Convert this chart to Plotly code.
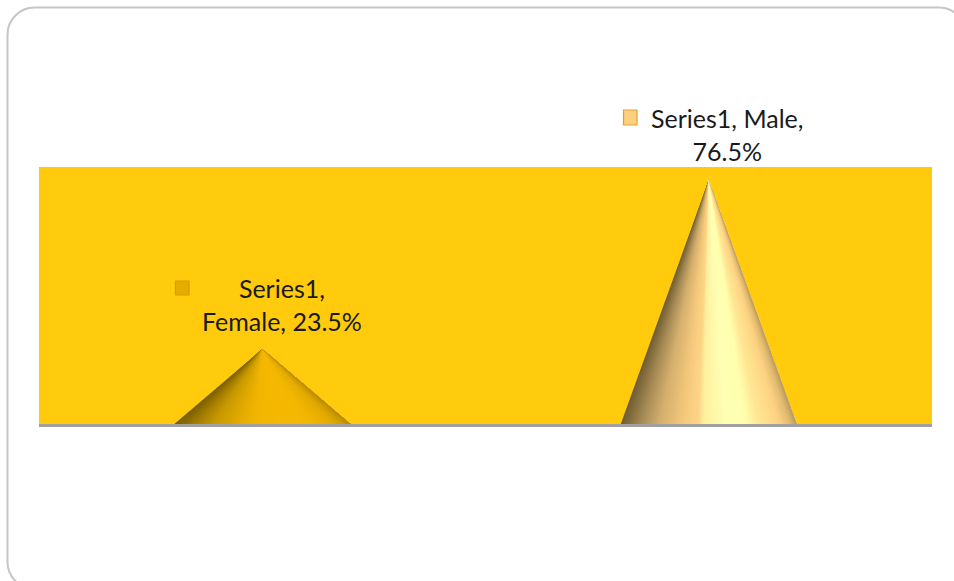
import plotly.graph_objects as go

# ---- data ----
categories = ["Female", "Male"]
values = [23.5, 76.5]
series_name = "Series1"
label_lines = [["Series1,", "Female, 23.5%"], ["Series1, Male,", "76.5%"]]

# shading stops across each cone: (position across the base, colour)
shade_positions = [0.0, 0.05, 0.12, 0.22, 0.36, 0.44, 0.47, 0.6, 0.71, 0.78, 0.9, 0.96, 1.0]
shade_female = ["#7a5e00", "#8a6a00", "#a57d00", "#c69800", "#e2aa00", "#eeb300", "#f2b600",
                "#f5b800", "#f5b800", "#f2b600", "#e4ab00", "#cf9b00", "#b88a00"]
shade_male = ["#6f5c38", "#86703f", "#a88c56", "#d3ae6d", "#f5c97c", "#fdd586", "#fff09e",
              "#ffffb4", "#ffffae", "#ffe794", "#fdd282", "#e2bb70", "#bb9a5c"]

W, H = 954, 581
L, R, T, B = 39, 932, 167, 424
Y_MAX = 80.6
CONE_HALF = 0.197
N_SLICES = 90


def hex2rgb(h):
    return tuple(int(h[i:i + 2], 16) for i in (1, 3, 5))


def shade(stops, t):
    for i in range(len(shade_positions) - 1):
        a, b = shade_positions[i], shade_positions[i + 1]
        if t <= b:
            f = (t - a) / (b - a)
            c0, c1 = hex2rgb(stops[i]), hex2rgb(stops[i + 1])
            return "rgb(%d,%d,%d)" % tuple(round(p + (q - p) * f) for p, q in zip(c0, c1))
    return stops[-1]


fig = go.Figure()

for idx, (name, val, stops) in enumerate(zip(categories, values, [shade_female, shade_male])):
    right = idx + CONE_HALF
    for s in range(N_SLICES):
        # each slice overlaps the rest of the cone, so no seams show between slices
        t0 = s / N_SLICES
        colour = shade(stops, (s + 0.5) / N_SLICES)
        x0 = idx - CONE_HALF + 2 * CONE_HALF * t0
        fig.add_trace(go.Scatter(
            x=[idx, x0, right, idx], y=[val, 0, 0, val],
            mode="none", fill="toself", fillcolor=colour,
            hoverinfo="skip", showlegend=False, name=f"{series_name}, {name}",
        ))


def px(x):
    return (x - L) / (R - L)


def py(y):
    return (B - y) / (B - T)


# frame
fx0, fy0, fx1, fy1, r = 7.5, 7.5, 966, 589, 27
k = r * 0.45


def P(x, y):
    return f"{px(x)},{py(y)}"


path = (f"M {P(fx0, fy0 + r)} C {P(fx0, fy0 + k)} {P(fx0 + k, fy0)} {P(fx0 + r, fy0)} "
        f"L {P(fx1 - r, fy0)} C {P(fx1 - k, fy0)} {P(fx1, fy0 + k)} {P(fx1, fy0 + r)} "
        f"L {P(fx1, fy1 - r)} C {P(fx1, fy1 - k)} {P(fx1 - k, fy1)} {P(fx1 - r, fy1)} "
        f"L {P(fx0 + r, fy1)} C {P(fx0 + k, fy1)} {P(fx0, fy1 - k)} {P(fx0, fy1 - r)} Z")
shapes = [dict(type="path", xref="paper", yref="paper", path=path,
               line=dict(color="#c6c6c6", width=2), fillcolor="rgba(0,0,0,0)", layer="below")]

# legend keys in data labels
key_boxes = [(175.5, 281, 189, 295, "#e6ad00", "#d19e00"), (623.5, 110, 637, 125, "#fdd07f", "#dba431")]
for x0, y0, x1, y1, fc, lc in key_boxes:
    shapes.append(dict(type="rect", xref="paper", yref="paper",
                       x0=px(x0), x1=px(x1), y0=py(y1), y1=py(y0),
                       fillcolor=fc, line=dict(color=lc, width=1.2), layer="above"))

# data labels
label_centres = [(282, 304.5), (727, 134.5)]
annotations = []
for (cx, cy), lines in zip(label_centres, label_lines):
    annotations.append(dict(
        xref="paper", yref="paper", x=px(cx), y=py(cy), showarrow=False,
        text="<br>".join(lines), align="center", xanchor="center", yanchor="middle",
        font=dict(family="Lato", size=25, color="#1a1a1a"),
    ))

fig.update_layout(
    width=W, height=H,
    margin=dict(l=L, r=W - R, t=T, b=H - B),
    paper_bgcolor="white", plot_bgcolor="#ffcb0c",
    showlegend=False, shapes=shapes, annotations=annotations,
    xaxis=dict(range=[-0.5, 1.5], tickvals=[0, 1], ticktext=categories, showticklabels=False,
               showgrid=False, zeroline=False, ticks="", showline=True, linecolor="#a0a0a0", linewidth=3),
    yaxis=dict(range=[0, Y_MAX], showticklabels=False, showgrid=False, zeroline=False, ticks=""),
)

fig.write_html("out.html", config=dict(displayModeBar=False),
               post_script="document.body.style.margin='0';document.documentElement.style.overflow='hidden';")
